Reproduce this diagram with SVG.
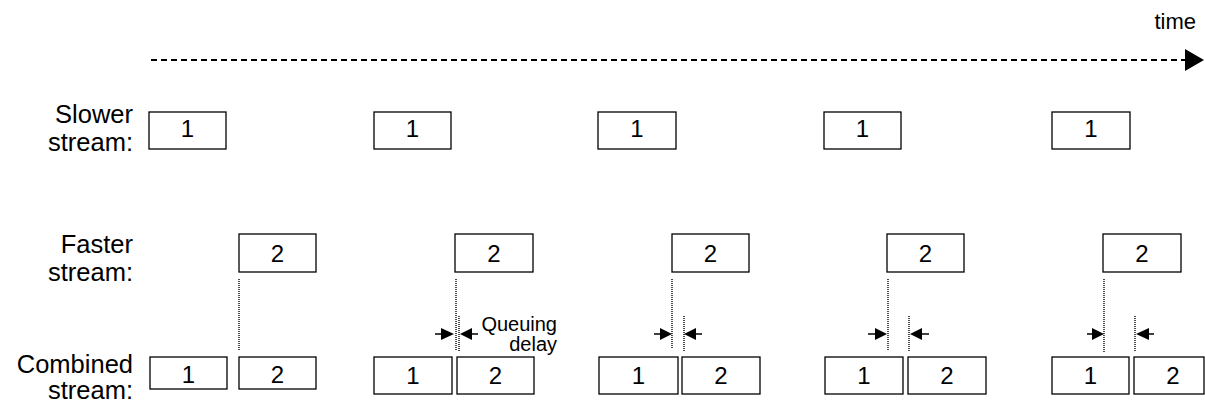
<svg xmlns="http://www.w3.org/2000/svg" width="1205" height="402" viewBox="0 0 1205 402">
<defs>
<style>
.box{fill:#fff;stroke:#000;stroke-width:1.3}
.dg{font-family:"Liberation Sans",Arial,sans-serif;font-size:24px;text-anchor:middle;fill:#000}
.lbl{font-family:"Liberation Sans",Arial,sans-serif;font-size:25.5px;text-anchor:end;fill:#000}
.dot{stroke:#000;stroke-width:1.4;stroke-dasharray:1 1;fill:none}
.arr{stroke:#000;stroke-width:1.5;fill:none}
.head{fill:#000}
</style>
</defs>
<rect width="1205" height="402" fill="#fff"/>

<g id="labels">
<text class="lbl" x="133" y="123">Slower</text>
<text class="lbl" x="133" y="151">stream:</text>
<text class="lbl" x="133" y="253">Faster</text>
<text class="lbl" x="133" y="281">stream:</text>
<text class="lbl" x="133" y="373">Combined</text>
<text class="lbl" x="133" y="399">stream:</text>
<text x="1196" y="29" font-family="Liberation Sans, Arial, sans-serif" font-size="22" text-anchor="end">time</text>
<text x="557" y="331" font-family="Liberation Sans, Arial, sans-serif" font-size="20" text-anchor="end">Queuing</text>
<text x="557" y="351" font-family="Liberation Sans, Arial, sans-serif" font-size="20" text-anchor="end">delay</text>
</g>

<g id="connectors">
<line x1="151" y1="60" x2="1186" y2="60" stroke="#000" stroke-width="1.8" stroke-dasharray="6 4"/>
<polygon points="1185,49 1204,60 1185,71" fill="#000"/>
<line class="dot" x1="239" y1="279" x2="239" y2="350"/>
<line class="dot" x1="456" y1="279" x2="456" y2="351"/>
<line class="dot" x1="459" y1="316" x2="459" y2="351"/>
<line class="dot" x1="672" y1="279" x2="672" y2="349"/>
<line class="dot" x1="684" y1="316" x2="684" y2="352"/>
<line class="dot" x1="888" y1="279" x2="888" y2="350"/>
<line class="dot" x1="909" y1="316" x2="909" y2="352"/>
<line class="dot" x1="1104" y1="279" x2="1104" y2="352"/>
<line class="dot" x1="1135" y1="316" x2="1135" y2="352"/>

<line class="arr" x1="435" y1="334" x2="442" y2="334"/>
<polygon class="head" points="441,328 454,334 441,340"/>
<line class="arr" x1="478" y1="334" x2="471" y2="334"/>
<polygon class="head" points="472,328 460,334 472,340"/>

<line class="arr" x1="654" y1="334" x2="661" y2="334"/>
<polygon class="head" points="660,328 672,334 660,340"/>
<line class="arr" x1="702" y1="334" x2="695" y2="334"/>
<polygon class="head" points="696,328 684,334 696,340"/>

<line class="arr" x1="868" y1="334" x2="876" y2="334"/>
<polygon class="head" points="875,328 887,334 875,340"/>
<line class="arr" x1="929" y1="334" x2="921" y2="334"/>
<polygon class="head" points="922,328 910,334 922,340"/>

<line class="arr" x1="1087" y1="334" x2="1093" y2="334"/>
<polygon class="head" points="1092,328 1104,334 1092,340"/>
<line class="arr" x1="1154" y1="334" x2="1148" y2="334"/>
<polygon class="head" points="1149,328 1136,334 1149,340"/>
</g>

<g id="slower">
<g id="s1"><rect class="box" x="149" y="112" width="77" height="37"/><text class="dg" x="187.5" y="137">1</text></g>
<g id="s2"><rect class="box" x="374" y="112" width="77" height="37"/><text class="dg" x="412.5" y="137">1</text></g>
<g id="s3"><rect class="box" x="598" y="112" width="78" height="37"/><text class="dg" x="637" y="137">1</text></g>
<g id="s4"><rect class="box" x="824" y="112" width="77" height="37"/><text class="dg" x="862.5" y="137">1</text></g>
<g id="s5"><rect class="box" x="1052" y="112" width="78" height="37"/><text class="dg" x="1091" y="137">1</text></g>
</g>

<g id="faster">
<g id="f1"><rect class="box" x="239" y="234" width="77" height="38"/><text class="dg" x="277.5" y="262">2</text></g>
<g id="f2"><rect class="box" x="455" y="234" width="78" height="38"/><text class="dg" x="494" y="262">2</text></g>
<g id="f3"><rect class="box" x="672" y="234" width="77" height="38"/><text class="dg" x="710.5" y="262">2</text></g>
<g id="f4"><rect class="box" x="887" y="234" width="77" height="38"/><text class="dg" x="925.5" y="262">2</text></g>
<g id="f5"><rect class="box" x="1103" y="234" width="78" height="38"/><text class="dg" x="1142" y="262">2</text></g>
</g>

<g id="combined">
<g id="c1a"><rect class="box" x="150" y="357" width="77" height="32"/><text class="dg" x="188.5" y="383">1</text></g>
<g id="c1b"><rect class="box" x="239" y="357" width="77" height="32"/><text class="dg" x="277.5" y="383">2</text></g>
<g id="c2a"><rect class="box" x="374" y="357" width="78" height="37"/><text class="dg" x="413" y="384">1</text></g>
<g id="c2b"><rect class="box" x="457" y="357" width="77" height="37"/><text class="dg" x="495.5" y="384">2</text></g>
<g id="c3a"><rect class="box" x="599" y="357" width="79" height="37"/><text class="dg" x="638.5" y="384">1</text></g>
<g id="c3b"><rect class="box" x="682" y="357" width="78" height="37"/><text class="dg" x="721" y="384">2</text></g>
<g id="c4a"><rect class="box" x="825" y="357" width="78" height="37"/><text class="dg" x="864" y="384">1</text></g>
<g id="c4b"><rect class="box" x="908" y="357" width="78" height="37"/><text class="dg" x="947" y="384">2</text></g>
<g id="c5a"><rect class="box" x="1052" y="357" width="77" height="37"/><text class="dg" x="1090.5" y="384">1</text></g>
<g id="c5b"><rect class="box" x="1134" y="357" width="70" height="37"/><text class="dg" x="1173" y="384">2</text></g>
</g>
</svg>
